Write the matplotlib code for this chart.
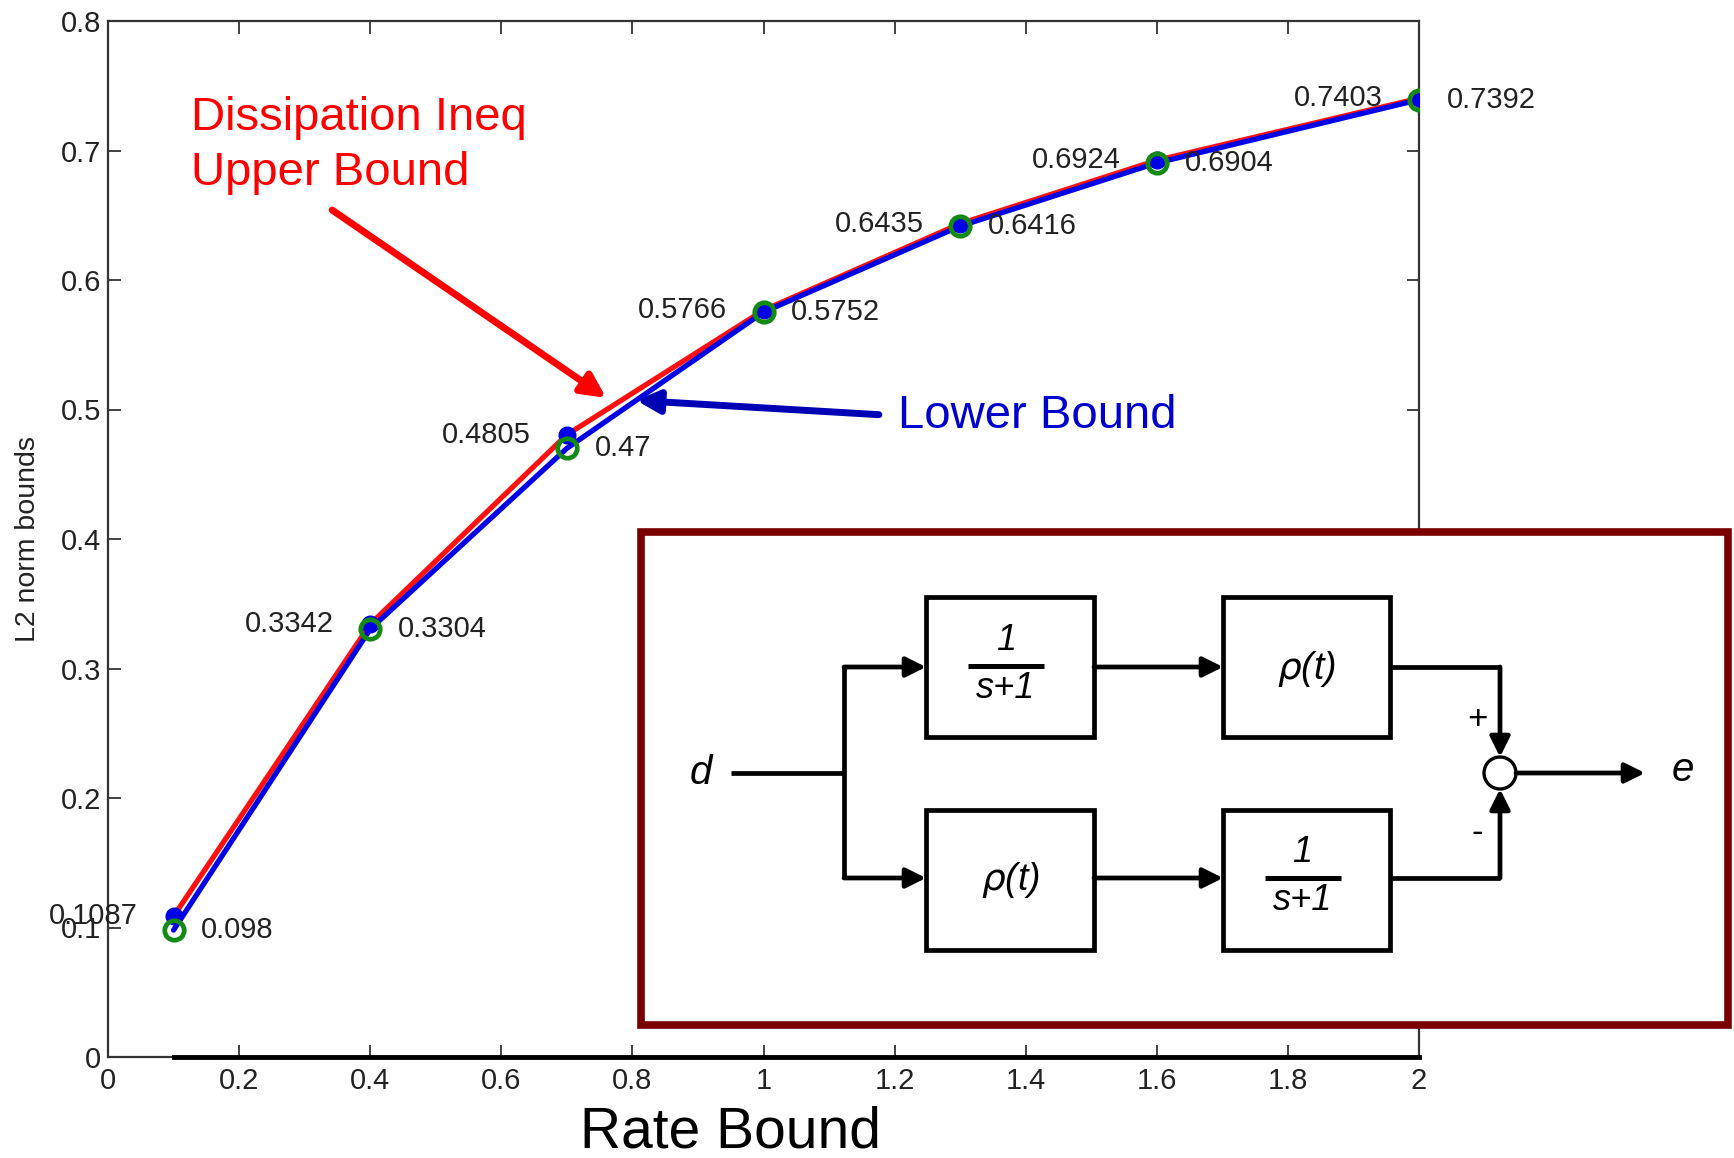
import matplotlib
matplotlib.use("Agg")
import matplotlib.pyplot as plt
from matplotlib.patches import Rectangle, Circle

plt.rcParams['font.family'] = ['Liberation Sans', 'DejaVu Sans']

# ---------------- data ----------------
rate_bound = [0.1, 0.4, 0.7, 1.0, 1.3, 1.6, 2.0]
upper_bound = [0.1087, 0.3342, 0.4805, 0.5766, 0.6435, 0.6924, 0.7403]
lower_bound = [0.098, 0.3304, 0.47, 0.5752, 0.6416, 0.6904, 0.7392]
upper_labels = ['0.1087', '0.3342', '0.4805', '0.5766', '0.6435', '0.6924', '0.7403']
lower_labels = ['0.098', '0.3304', '0.47', '0.5752', '0.6416', '0.6904', '0.7392']
x_ticks = [0, 0.2, 0.4, 0.6, 0.8, 1.0, 1.2, 1.4, 1.6, 1.8, 2.0]
x_ticklabels = ['0', '0.2', '0.4', '0.6', '0.8', '1', '1.2', '1.4', '1.6', '1.8', '2']
y_ticks = [0, 0.1, 0.2, 0.3, 0.4, 0.5, 0.6, 0.7, 0.8]
y_ticklabels = ['0', '0.1', '0.2', '0.3', '0.4', '0.5', '0.6', '0.7', '0.8']

W, H = 1734, 1158
fig = plt.figure(figsize=(W / 100, H / 100), dpi=100)
fig.patch.set_facecolor('white')

L, R, T, B = 108, 1419, 21, 1057
ax = fig.add_axes([L / W, 1 - B / H, (R - L) / W, (B - T) / H])
ax.set_xlim(0, 2)
ax.set_ylim(0, 0.8)

txt = '#222222'
ax.plot(rate_bound, upper_bound, color='#ff1010', lw=3.8, zorder=3, solid_capstyle='round')
ax.plot(rate_bound, lower_bound, color='#0000e6', lw=3.8, zorder=4, solid_capstyle='round')
ax.plot(rate_bound, upper_bound, ls='none', marker='o', ms=12, color='#0000e6', zorder=5)
ax.plot(rate_bound, lower_bound, ls='none', marker='o', ms=14, mfc='none', mec='#138a13', mew=3.4, zorder=6)
# thick baseline segment along the x axis
ax.plot([rate_bound[0], rate_bound[-1]], [0, 0], color='black', lw=3.5, zorder=7, clip_on=False)

for xv, yv, lab in zip(rate_bound, upper_bound, upper_labels):
    ax.annotate(lab, (xv, yv), xytext=(-26, 0), textcoords='offset points',
                ha='right', va='center', fontsize=21, color=txt, zorder=8)
for xv, yv, lab in zip(rate_bound, lower_bound, lower_labels):
    ax.annotate(lab, (xv, yv), xytext=(20, 0), textcoords='offset points',
                ha='left', va='center', fontsize=21, color=txt, zorder=8)

ax.set_xticks(x_ticks)
ax.set_xticklabels(x_ticklabels)
ax.set_yticks(y_ticks)
ax.set_yticklabels(y_ticklabels)
ax.tick_params(direction='in', length=9, width=1.3, top=True, right=True,
               labelsize=21, labelcolor=txt, color='#333333')
ax.tick_params(axis='y', pad=5)
ax.tick_params(axis='x', pad=7)
for s in ax.spines.values():
    s.set_linewidth(1.6)
    s.set_color('#333333')

ax.set_ylabel('L2 norm bounds', fontsize=20.5, color=txt, labelpad=14)
fig.text(730 / W, 1 - 1133 / H, 'Rate Bound', fontsize=41, color='black', ha='center', va='center')

# annotations
ax.text(0.127, 0.704, 'Dissipation Ineq\nUpper Bound', color='#ff0000', fontsize=34,
        ha='left', va='center', linespacing=1.32)
ax.annotate('', xy=(0.760, 0.509), xytext=(0.342, 0.654),
            arrowprops=dict(arrowstyle='-|>', color='#ff0000', lw=5, mutation_scale=36,
                            shrinkA=0, shrinkB=0), zorder=9)
ax.text(1.205, 0.495, 'Lower Bound', color='#0000cc', fontsize=34, ha='left', va='center')
ax.annotate('', xy=(0.806, 0.507), xytext=(1.176, 0.496),
            arrowprops=dict(arrowstyle='-|>', color='#0000b4', lw=5, mutation_scale=34,
                            shrinkA=0, shrinkB=0), zorder=9)

# ---------------- inset block diagram (figure pixel coordinates) ----------------
ov = fig.add_axes([0, 0, 1, 1], zorder=10)
ov.set_xlim(0, W)
ov.set_ylim(H, 0)
ov.axis('off')
ov.patch.set_visible(False)

ov.add_patch(Rectangle((641, 532), 1728 - 641, 1025 - 532, facecolor='white',
                       edgecolor='#7a0000', lw=5.5))

lw = 3.4
k = 'black'
def box(x0, y0, x1, y1):
    ov.add_patch(Rectangle((x0, y0), x1 - x0, y1 - y0, facecolor='none', edgecolor=k, lw=lw))

def arrow(p0, p1):
    ov.annotate('', xy=p1, xytext=p0, xycoords='data',
                arrowprops=dict(arrowstyle='-|>', color=k, lw=lw, mutation_scale=30,
                                shrinkA=0, shrinkB=0))

def line(xs, ys):
    ov.plot(xs, ys, color=k, lw=lw, solid_capstyle='butt', solid_joinstyle='miter')

bx1 = (926, 1094)
bx2 = (1223, 1390)
ty = (597, 737)
by = (810, 950)
yt, ym, yb = 667, 773, 878
xbr = 844
cx, cr = 1500, 16

box(bx1[0], ty[0], bx1[1], ty[1])
box(bx2[0], ty[0], bx2[1], ty[1])
box(bx1[0], by[0], bx1[1], by[1])
box(bx2[0], by[0], bx2[1], by[1])

line([731, xbr], [ym, ym])
line([xbr, xbr], [yt, yb])
arrow((xbr, yt), (bx1[0], yt))
arrow((xbr, yb), (bx1[0], yb))
arrow((bx1[1], yt), (bx2[0], yt))
arrow((bx1[1], yb), (bx2[0], yb))
line([bx2[1], cx], [yt, yt])
arrow((cx, yt), (cx, ym - cr))
line([bx2[1], cx], [yb, yb])
arrow((cx, yb), (cx, ym + cr))
ov.add_patch(Circle((cx, ym), cr, facecolor='white', edgecolor=k, lw=2.4))
arrow((cx + cr, ym), (1645, ym))

it = dict(style='italic', color=k, ha='center', va='center')
ov.text(701, ym, 'd', fontsize=29, **it)
ov.text(1683, ym - 3, 'e', fontsize=29, **it)
ov.text(1477, 720, '+', fontsize=25, color=k, ha='center', va='center')
ov.text(1477, 832, '-', fontsize=25, color=k, ha='center', va='center')

def frac(xc, yc):
    ov.text(xc, yc - 25, '1', fontsize=26, **it)
    ov.plot([xc - 38, xc + 38], [yc, yc], color=k, lw=3.6, solid_capstyle='butt')
    ov.text(xc, yc + 23, 's+1', fontsize=26, **it)

def rho(xc, yc):
    ov.text(xc, yc, r'$\rho$(t)', fontsize=27, **it)

frac((bx1[0] + bx1[1]) / 2 - 4, yt - 1)
rho((bx2[0] + bx2[1]) / 2, yt + 2)
rho((bx1[0] + bx1[1]) / 2, yb + 2)
frac((bx2[0] + bx2[1]) / 2 - 4, yb)

fig.savefig('out.png', dpi=100, facecolor='white')
